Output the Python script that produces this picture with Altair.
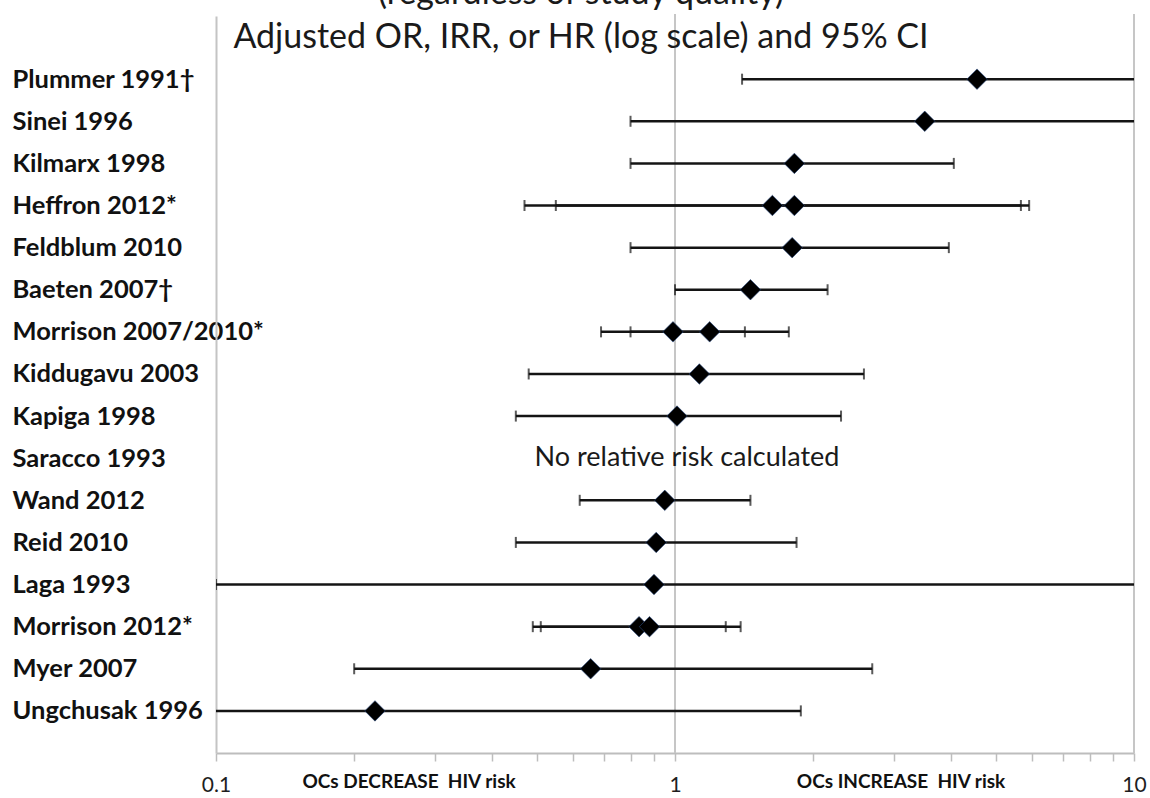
import altair as alt
import pandas as pd

# ---- data ----
studies = ["Plummer 1991†", "Sinei 1996", "Kilmarx 1998", "Heffron 2012*", "Feldblum 2010",
           "Baeten 2007†", "Morrison 2007/2010*", "Kiddugavu 2003", "Kapiga 1998", "Saracco 1993",
           "Wand 2012", "Reid 2010", "Laga 1993", "Morrison 2012*", "Myer 2007", "Ungchusak 1996"]

est_study = ["Plummer 1991†", "Sinei 1996", "Kilmarx 1998", "Heffron 2012*", "Heffron 2012*",
             "Feldblum 2010", "Baeten 2007†", "Morrison 2007/2010*", "Morrison 2007/2010*",
             "Kiddugavu 2003", "Kapiga 1998", "Wand 2012", "Reid 2010", "Laga 1993",
             "Morrison 2012*", "Morrison 2012*", "Myer 2007", "Ungchusak 1996"]
est = [4.55, 3.5, 1.82, 1.63, 1.82, 1.80, 1.46, 0.99, 1.19, 1.13, 1.01, 0.95, 0.91, 0.90,
       0.835, 0.88, 0.655, 0.222]
lo = [1.40, 0.80, 0.80, 0.47, 0.55, 0.80, 1.00, 0.69, 0.80, 0.48, 0.45, 0.62, 0.45, 0.10,
      0.49, 0.51, 0.20, 0.09]
hi = [12.0, 12.0, 4.05, 5.67, 5.91, 3.95, 2.15, 1.42, 1.77, 2.58, 2.30, 1.46, 1.84, 11.0,
      1.29, 1.39, 2.69, 1.88]

no_estimate_study = "Saracco 1993"
no_estimate_text = "No relative risk calculated"

tick_values = [0.1, 0.2, 0.3, 0.4, 0.5, 0.6, 0.7, 0.8, 0.9,
               1, 2, 3, 4, 5, 6, 7, 8, 9, 10]
labelled_ticks = [0.1, 1, 10]
ref_lines = [1, 10]

title_top = "(regardless of study quality)"
title_main = "Adjusted OR, IRR, or HR (log scale) and 95% CI"
left_note = "OCs DECREASE\u00a0 HIV risk"
right_note = "OCs INCREASE\u00a0 HIV risk"

# ---- derived tables ----
n = len(studies)
row_of = {s: n - i for i, s in enumerate(studies)}
df = pd.DataFrame({"study": est_study, "est": est, "lo": lo, "hi": hi})
df["row"] = df["study"].map(row_of)

label_array = "[''," + ",".join("'" + s + "'" for s in reversed(studies)) + "]"

W, H = 918, 737
FONT = "Lato"

xscale = alt.Scale(type="log", domain=[0.1, 10])
yscale = alt.Scale(domain=[0, 17.5], nice=False, zero=False)

x_axis = alt.Axis(values=tick_values, grid=False, title=None,
                  labelExpr="indexof(" + str(labelled_ticks) + ", datum.value) >= 0 ? format(datum.value, '~g') : ''",
                  labelFlush=False, labelOverlap=False, labelBound=False,
                  labelFont=FONT, labelFontSize=21, labelColor="#1e1e1e",
                  labelBaseline="middle", labelPadding=24,
                  domainColor="#bdbdbd", domainWidth=2, tickColor="#bdbdbd",
                  tickWidth=1.5, tickSize=8)
y_axis = alt.Axis(values=list(range(1, n + 1)), grid=False, title=None,
                  labelExpr=label_array + "[datum.value]",
                  labelAlign="left", labelBaseline="middle", labelPadding=204,
                  ticks=False, tickSize=0, labelFont=FONT, labelFontWeight="bold",
                  labelFontSize=25.5, labelColor="#111111", labelOverlap=False,
                  labelLimit=400, labelBound=False, domainColor="#c4c4c4", domainWidth=2)

base = alt.Chart(df)

grid = alt.Chart(pd.DataFrame({"v": ref_lines})).mark_rule(
    color="#c6c6c6", strokeWidth=2).encode(
    x=alt.X("v:Q", scale=xscale, axis=x_axis),
    y=alt.value(-2), y2=alt.value(H))

ci = base.mark_rule(color="#141414", strokeWidth=2.5, clip=True).encode(
    x=alt.X("lo:Q", scale=xscale),
    x2="hi:Q",
    y=alt.Y("row:Q", scale=yscale, axis=y_axis))

cap_lo = base.mark_tick(color="#141414", thickness=2, size=11, orient="vertical", clip=True).encode(
    x=alt.X("lo:Q", scale=xscale), y=alt.Y("row:Q", scale=yscale))
cap_hi = base.mark_tick(color="#141414", thickness=2, size=11, orient="vertical", clip=True).encode(
    x=alt.X("hi:Q", scale=xscale), y=alt.Y("row:Q", scale=yscale))

pts = base.mark_point(shape="diamond", filled=True, color="#000000", size=420, opacity=1,
                      stroke="#2a4a80", strokeWidth=0.6).encode(
    x=alt.X("est:Q", scale=xscale), y=alt.Y("row:Q", scale=yscale))

note = alt.Chart(pd.DataFrame({"row": [row_of[no_estimate_study]], "t": [no_estimate_text]})).mark_text(
    font=FONT, fontSize=27, color="#1a1a1a", align="center", baseline="middle").encode(
    x=alt.value(471), y=alt.Y("row:Q", scale=yscale), text="t:N")

t_top = alt.Chart(pd.DataFrame({"t": [title_top]})).mark_text(
    font=FONT, fontSize=34, color="#1a1a1a", align="center", baseline="alphabetic").encode(
    x=alt.value(365), y=alt.value(-12), text="t:N")
t_main = alt.Chart(pd.DataFrame({"t": [title_main]})).mark_text(
    font=FONT, fontSize=34, color="#1a1a1a", align="center", baseline="alphabetic").encode(
    x=alt.value(365), y=alt.value(32), text="t:N")

n_left = alt.Chart(pd.DataFrame({"t": [left_note]})).mark_text(
    font=FONT, fontSize=19, fontWeight="bold", color="#111111", align="center", baseline="middle").encode(
    x=alt.value(193), y=alt.value(766), text="t:N")
n_right = alt.Chart(pd.DataFrame({"t": [right_note]})).mark_text(
    font=FONT, fontSize=19, fontWeight="bold", color="#111111", align="center", baseline="middle").encode(
    x=alt.value(685), y=alt.value(766), text="t:N")

chart = alt.layer(grid, ci, cap_lo, cap_hi, pts, note, t_top, t_main, n_left, n_right).properties(
    width=W, height=H,
    autosize=alt.AutoSizeParams(type="none"),
    padding={"left": 216, "top": 16, "right": 16, "bottom": 45},
    background="white",
).configure_view(stroke=None)

chart.save("out.html", embed_options={"renderer": "svg", "actions": False})
